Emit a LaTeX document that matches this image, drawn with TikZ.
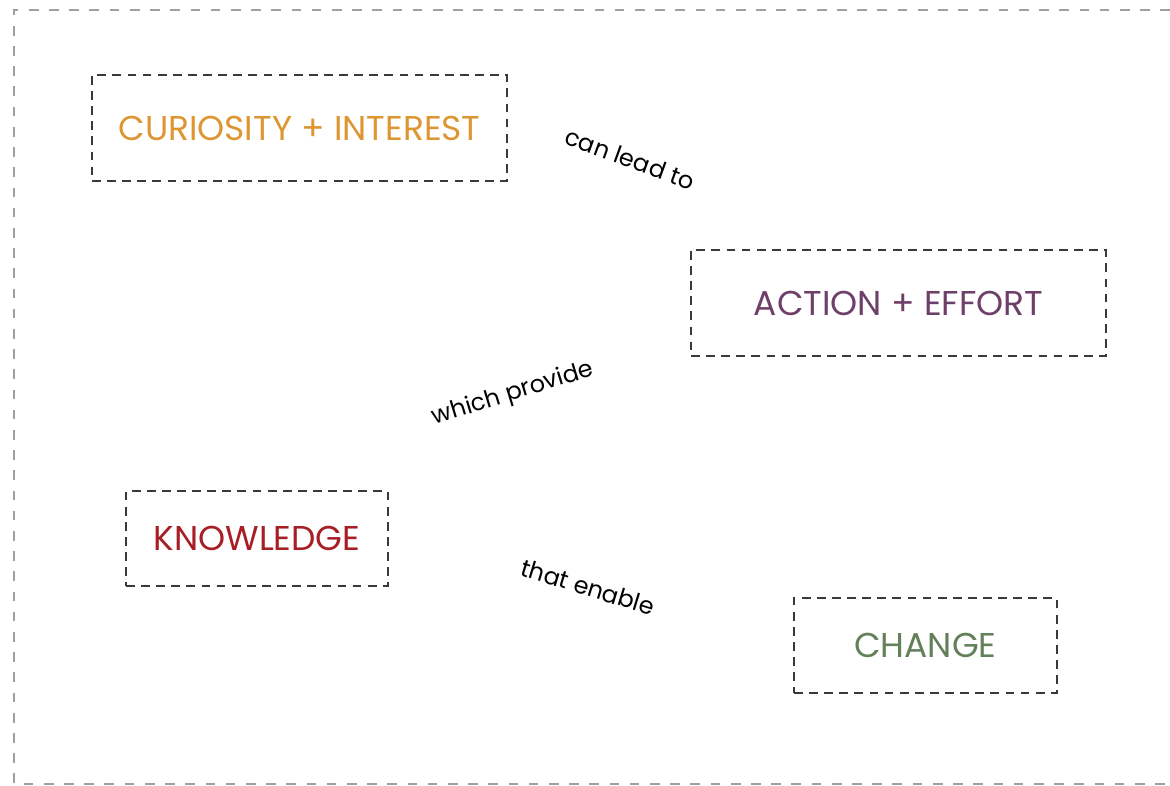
\documentclass[tikz,border=0pt]{standalone}
\usepackage{fontspec}
\setmainfont{Poppins}
\definecolor{curious}{HTML}{DD9632}
\definecolor{action}{HTML}{6E3F69}
\definecolor{knowl}{HTML}{A81E25}
\definecolor{change}{HTML}{62805A}
\definecolor{boxline}{HTML}{3A3838}
\tikzset{
  stagebox/.style={draw=boxline, line width=1.4pt, dash pattern=on 5pt off 3.6pt,
    font=\fontsize{19.6}{22}\selectfont, inner sep=0pt},
  linkword/.style={font=\fontsize{13.6}{15}\selectfont, text=black},
}
\begin{document}
\begin{tikzpicture}[x=0.02cm, y=-0.02cm]
\useasboundingbox (0,0) rectangle (1170,786);
% frame, open on the right
\draw[gray!75, line width=1pt, dash pattern=on 5.5pt off 6pt] (1170,10) -- (14,10) -- (14,784) -- (1170,784);
% the four stages
\node[stagebox, text=curious, minimum width=8.3cm, minimum height=2.12cm] (curiosity) at (299.5,128) {CURIOSITY + INTEREST};
\node[stagebox, text=action, minimum width=8.3cm, minimum height=2.12cm] (action) at (898.5,303) {ACTION + EFFORT};
\node[stagebox, text=knowl, minimum width=5.24cm, minimum height=1.9cm] (knowledge) at (257,538.5) {KNOWLEDGE};
\node[stagebox, text=change, minimum width=5.26cm, minimum height=1.9cm] (change) at (925.5,645.5) {CHANGE};
% words in between
\node[linkword, rotate=-20] (leadto) at (630,159) {can lead to};
\node[linkword, rotate=17] (provide) at (513,394) {which provide};
\node[linkword, rotate=-17] (enable) at (588,587) {that enable};
\end{tikzpicture}
\end{document}
